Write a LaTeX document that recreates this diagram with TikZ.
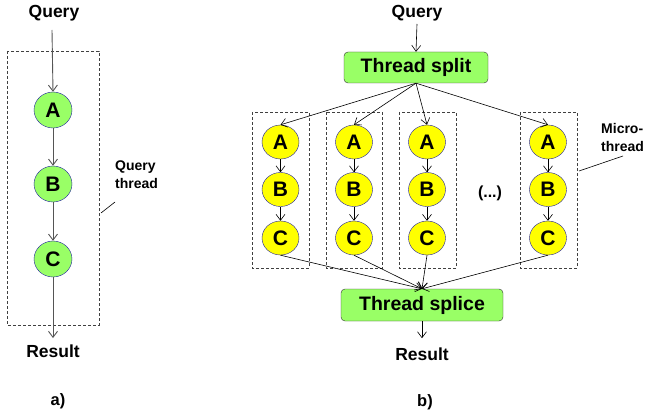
\documentclass[tikz,border=0pt]{standalone}
\usepackage{fontspec}
\setmainfont{Liberation Sans}
\usetikzlibrary{arrows.meta,shapes.geometric}
\definecolor{boxgreen}{HTML}{99FF66}
\definecolor{ballyellow}{HTML}{FFFF00}
\definecolor{rimblue}{HTML}{2020A0}
\definecolor{linegray}{HTML}{555555}
\tikzset{
  lbl/.style={font=\bfseries\fontsize{17.5}{19}\selectfont, inner sep=0pt},
  smalllbl/.style={font=\bfseries\fontsize{14}{18}\selectfont, inner sep=0pt, align=left},
  greenball/.style={ellipse, draw=rimblue, fill=boxgreen, minimum width=38pt, minimum height=36pt, inner sep=0pt, font=\bfseries\fontsize{21}{21}\selectfont},
  yellowball/.style={ellipse, draw=rimblue, fill=ballyellow, minimum width=37pt, minimum height=34pt, inner sep=0pt, font=\bfseries\fontsize{21}{21}\selectfont},
  stagebox/.style={draw=black!80, fill=boxgreen, rounded corners=4pt, minimum width=144pt, minimum height=31pt, inner sep=0pt, font=\bfseries\fontsize{19.5}{20}\selectfont},
  frame/.style={draw=black!75, dashed, dash pattern=on 3pt off 2pt},
  grayarrow/.style={draw=linegray, line width=0.9pt, -{Straight Barb[length=6pt,width=9pt]}},
  thinarrow/.style={draw=black, line width=0.6pt, -{Straight Barb[length=6pt,width=9pt]}},
}
\begin{document}
\begin{tikzpicture}[x=1pt, y=-1pt]
\useasboundingbox (0,0) rectangle (645,417);

% ---------- a) single query thread ----------
\node[lbl] (qa) at (54,13) {Query};
\draw[frame] (7,51) rectangle (99,325);
\node[greenball] (a1) at (53,110) {A};
\node[greenball] (b1) at (53,184) {B};
\node[greenball] (c1) at (53,259) {C};
\node[lbl] (ra) at (53,351) {Result};
\node[lbl, font=\bfseries\fontsize{16.5}{17}\selectfont] (capa) at (58,401) {a)};
\node[smalllbl, anchor=west] (qt) at (115,175) {Query\\thread};
\coordinate (qtend) at (101,213);
\draw[grayarrow] (52,30) coordinate (qstart) -- (a1.north);
\draw[grayarrow] (a1) -- (b1);
\draw[grayarrow] (b1) -- (c1);
\draw[grayarrow] (c1) -- (53,338) coordinate (rend);
\draw[black, line width=0.6pt] (115,202) -- (qtend);

% ---------- b) split into micro-threads ----------
\node[lbl] (qb) at (417,13) {Query};
\node[stagebox] (split) at (416,67.5) {Thread split};
\node[stagebox, minimum width=162pt, minimum height=32pt] (splice) at (422,305) {Thread splice};
\node[lbl] (rb) at (422,354) {Result};
\node[lbl, font=\bfseries\fontsize{16.5}{17}\selectfont] (capb) at (425,402) {b)};

\foreach \i/\x/\l/\r in {1/280.5/252/309, 2/354/326/382, 3/427/399/456, 4/548/520/577} {
  \draw[frame] (\l,112) rectangle (\r,268);
  \node[yellowball] (A\i) at (\x,142) {A};
  \node[yellowball] (B\i) at (\x,189.5) {B};
  \node[yellowball] (C\i) at (\x,238) {C};
  \draw[thinarrow] (A\i) -- (B\i);
  \draw[thinarrow] (B\i) -- (C\i);
  \draw[thinarrow] (split.south) -- (A\i.north);
  \draw[thinarrow] (C\i.south) -- (splice.north);
}
\node[font=\bfseries\fontsize{16}{16}\selectfont] (dots) at (490,193) {(...)};
\node[smalllbl, anchor=west] (mt) at (601,137) {Micro-\\thread};
\draw[black, line width=0.6pt] (623,156) -- (579,171);

\draw[thinarrow] (417,24) -- (split.north);
\draw[thinarrow] (splice.south) -- ++(0,17);
\end{tikzpicture}
\end{document}
